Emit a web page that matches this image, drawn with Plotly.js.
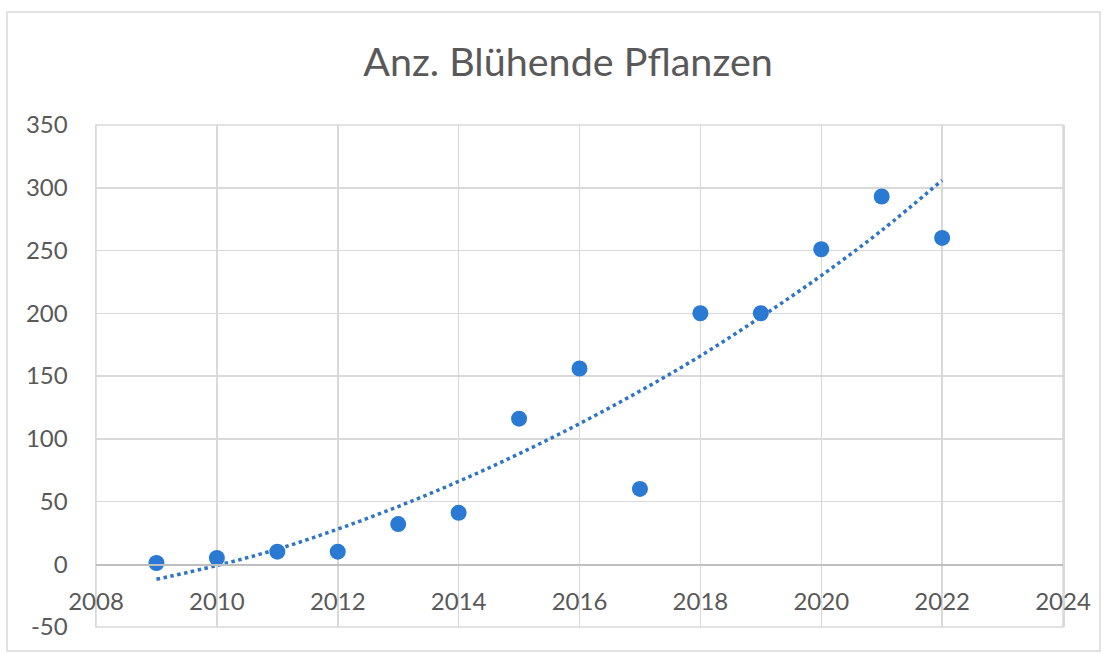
<!DOCTYPE html>
<html>
<head>
<meta charset="utf-8">
<script src="https://cdn.plot.ly/plotly-3.0.1.min.js"></script>
<style>
html,body{margin:0;padding:0;background:#fff;}
#chart{width:1110px;height:654px;}
</style>
</head>
<body>
<div id="chart"></div>
<script>
// Data
const years = [2009, 2010, 2011, 2012, 2013, 2014, 2015, 2016, 2017, 2018, 2019, 2020, 2021, 2022];
const plants = [1, 5, 10, 10, 32, 41, 116, 156, 60, 200, 200, 251, 293, 260];
// Polynomial (order 2) trendline, one value per year
const trendValues = [-12, -1, 12, 28, 46, 66, 88, 112, 138, 166, 197, 230, 266, 306];
const xTicks = [2008, 2010, 2012, 2014, 2016, 2018, 2020, 2022, 2024];
const yTicks = [-50, 0, 50, 100, 150, 200, 250, 300, 350];
const chartTitle = 'Anz. Blühende Pflanzen';

const gridColor = '#d9d9d9';
const textColor = '#595959';
const fontFam = 'Lato, "Open Sans", sans-serif';

const traces = [
  {
    x: years, y: trendValues, type: 'scatter', mode: 'lines',
    line: {color: '#2e75c6', width: 3.5, dash: 'dot', shape: 'spline'},
    hoverinfo: 'skip', showlegend: false
  },
  {
    x: years, y: plants, type: 'scatter', mode: 'markers',
    marker: {color: '#2a7ad3', size: 16},
    showlegend: false
  }
];

const layout = {
  width: 1110, height: 654,
  margin: {l: 96, r: 47, t: 125, b: 27},
  paper_bgcolor: '#ffffff', plot_bgcolor: '#ffffff',
  font: {family: fontFam, color: textColor, size: 24},
  title: {text: chartTitle, font: {family: fontFam, size: 39.5, color: textColor},
          x: 568/1110, xanchor: 'center', y: 0.905, yanchor: 'middle'},
  xaxis: {
    range: [2008, 2024], tickvals: xTicks, ticktext: xTicks.map(String),
    anchor: 'free', position: 63/502,
    showgrid: true, gridcolor: gridColor, gridwidth: 1.5,
    showline: true, linecolor: '#bfbfbf', linewidth: 1.5,
    ticks: 'outside', ticklen: 16, tickcolor: 'rgba(0,0,0,0)',
    tickfont: {size: 24, color: textColor}, zeroline: false
  },
  yaxis: {
    range: [-50, 350], tickvals: yTicks, ticktext: yTicks.map(String),
    showgrid: true, gridcolor: gridColor, gridwidth: 1.5,
    showline: true, mirror: true, linecolor: gridColor, linewidth: 1.5,
    ticks: 'outside', ticklen: 22, tickcolor: 'rgba(0,0,0,0)',
    tickfont: {size: 24, color: textColor}, zeroline: false
  },
  shapes: [
    {type: 'rect', xref: 'paper', yref: 'paper',
     x0: (7-96)/967, x1: (1100-96)/967, y0: (627-651)/502, y1: (627-12)/502,
     line: {color: '#d9d9d9', width: 1.5}, fillcolor: 'rgba(0,0,0,0)', layer: 'below'},
    {type: 'rect', xref: 'x domain', yref: 'y domain',
     x0: 0, x1: 1, y0: 0, y1: 1,
     line: {color: gridColor, width: 1.5}, fillcolor: 'rgba(0,0,0,0)', layer: 'below'}
  ]
};

Plotly.newPlot('chart', traces, layout, {displayModeBar: false, staticPlot: true});
</script>
</body>
</html>
